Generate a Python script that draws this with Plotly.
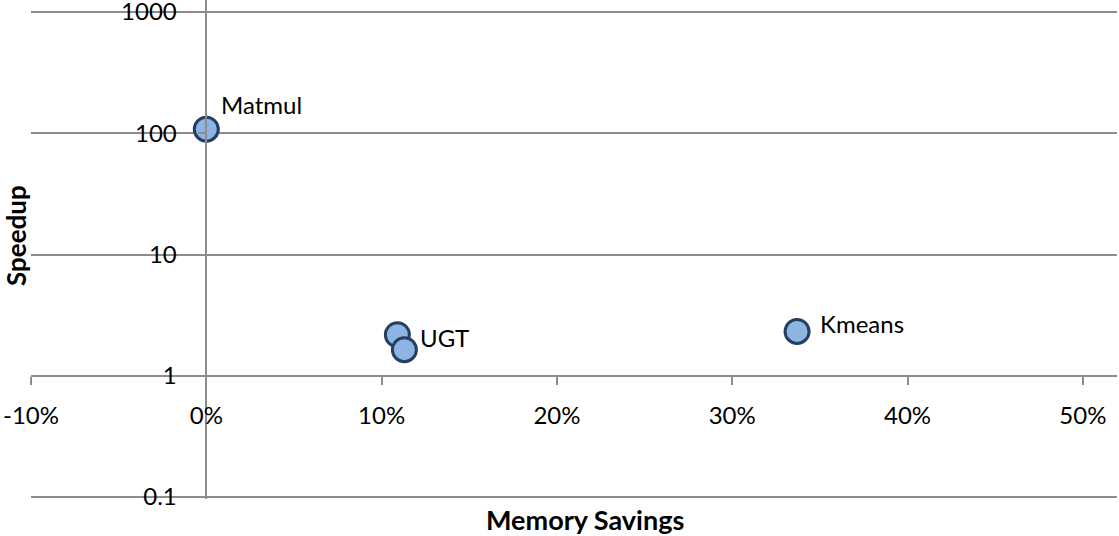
import numpy as np
import plotly.graph_objects as go

# Data
benchmarks = ["Matmul", "UGT", "UGT", "Kmeans"]
memory_savings = [0.0, 0.109, 0.113, 0.337]
speedup = [108.0, 2.18, 1.64, 2.32]
point_labels = ["Matmul", "UGT", "", "Kmeans"]

x_ticks = [-0.1, 0.0, 0.1, 0.2, 0.3, 0.4, 0.5]
x_ticktext = ["-10%", "0%", "10%", "20%", "30%", "40%", "50%"]
y_ticks = [0.1, 1, 10, 100, 1000]
y_ticktext = ["0.1", "1", "10", "100", "1000"]

# styling
label_shift = [(15, 25), (23, -3), (0, 0), (23, 8)]
FONT = "Lato, Calibri, Carlito, sans-serif"
GRID = "#8c8c8c"

W, H = 1119, 536
ML, MR, MT, MB = 31, 2, 0, 37
PH = H - MT - MB

x_range = [-0.1, 0.5195]
y_range = [-1.0165, 3.099]

fig = go.Figure()
fig.add_trace(go.Scatter(
    x=memory_savings, y=speedup, mode="markers",
    marker=dict(size=24, color="#8EB4E3", line=dict(color="#243F60", width=3)),
    hoverinfo="x+y", showlegend=False,
))

for xv, yv, lab, (dx, dy) in zip(memory_savings, speedup, point_labels, label_shift):
    if lab:
        fig.add_annotation(x=xv, y=np.log10(yv), text=lab, showarrow=False,
                           xanchor="left", yanchor="middle", xshift=dx - 2, yshift=dy,
                           font=dict(family=FONT, size=24, color="#000"))

x_pos = (0 - y_range[0]) / (y_range[1] - y_range[0])
y_pos = (0 - x_range[0]) / (x_range[1] - x_range[0])

fig.update_layout(
    width=W, height=H,
    margin=dict(l=ML, r=MR, t=MT, b=MB, autoexpand=False),
    plot_bgcolor="white", paper_bgcolor="white",
    font=dict(family=FONT, size=24, color="#000"),
    xaxis=dict(range=x_range, tickvals=x_ticks, ticktext=x_ticktext,
               showgrid=False, zeroline=False, showline=True, linecolor=GRID, linewidth=1.5,
               ticks="outside", ticklen=8, tickcolor=GRID, tickwidth=1.5,
               anchor="free", position=x_pos, ticklabelstandoff=11, automargin=False,
               ticklabeloverflow="allow", tickfont=dict(size=24)),
    yaxis=dict(type="log", range=y_range, tickvals=y_ticks, ticktext=y_ticktext,
               showgrid=True, gridcolor=GRID, gridwidth=1.5, zeroline=False,
               showline=True, linecolor=GRID, linewidth=1.5,
               ticks="outside", ticklen=8, tickcolor=GRID, tickwidth=1.5,
               anchor="free", position=y_pos, ticklabelstandoff=16, automargin=False,
               ticklabeloverflow="allow", tickfont=dict(size=24)),
)

fig.add_annotation(text="<b>Memory Savings</b>", xref="paper", yref="paper",
                   x=(585 - ML) / (W - ML - MR), y=(PH - 519) / PH, showarrow=False,
                   xanchor="center", yanchor="middle", font=dict(size=27))
fig.add_annotation(text="<b>Speedup</b>", xref="paper", yref="paper",
                   x=-(ML - 16) / (W - ML - MR), y=(PH - 236) / PH, showarrow=False,
                   textangle=-90, xanchor="center", yanchor="middle", font=dict(size=26))

fig.write_html("out.html")
